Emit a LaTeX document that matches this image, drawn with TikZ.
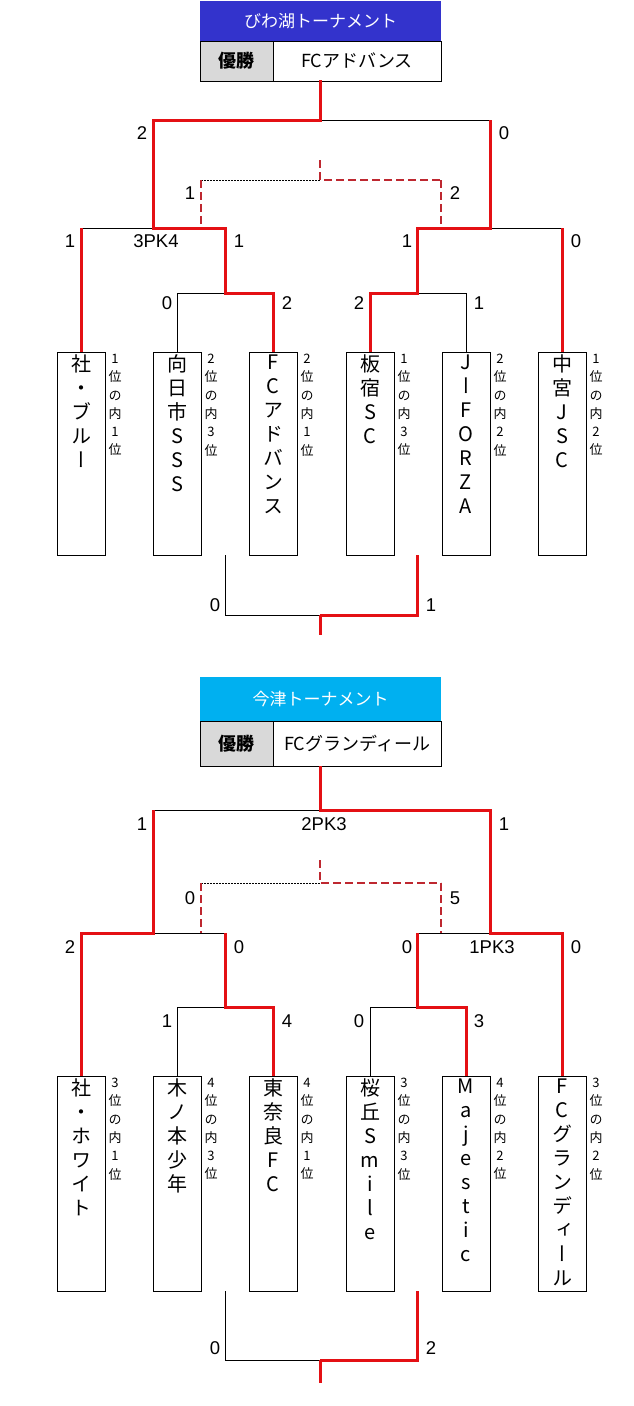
\documentclass[tikz,border=0pt]{standalone}
\usepackage{fontspec}
\setmainfont{Noto Sans CJK JP}
\newfontfamily\jpv[RawFeature=+vert]{Noto Sans CJK JP}
\newfontfamily\numf{Liberation Sans}
\definecolor{wred}{RGB}{228,16,20}
\definecolor{dred}{RGB}{190,40,48}
\definecolor{hblue}{RGB}{51,51,204}
\definecolor{hcyan}{RGB}{0,176,240}
\definecolor{cgray}{RGB}{217,217,217}
\tikzset{
  win/.style={draw=wred,line width=3pt,line join=miter},
  lose/.style={draw=black,line width=0.9pt},
  dsh/.style={draw=dred,line width=2pt,dash pattern=on 8pt off 4pt},
  dot/.style={draw=black,line width=0.7pt,dash pattern=on 2pt off 1pt},
  score/.style={font=\numf\fontsize{18.5}{18.5}\selectfont,inner sep=0},
  team/.style={draw,line width=0.9pt,minimum width=48pt,inner sep=0},
  vt/.style={font=\jpv\fontsize{20}{24}\selectfont,align=center,inner sep=0,anchor=north},
  sl/.style={font=\jpv\fontsize{13}{18.3}\selectfont,align=center,inner sep=0,anchor=north},
  hdr/.style={minimum width=241pt,minimum height=40pt,inner sep=0,text=white,font=\fontsize{17}{17}\selectfont},
  cell/.style={draw,line width=0.9pt,minimum height=40pt,inner sep=0,font=\fontsize{18}{18}\selectfont},
}
\begin{document}
\begin{tikzpicture}[x=1pt,y=-1pt]
\useasboundingbox (0,0) rectangle (633,1406);

% ================= Bracket A =================
\node[hdr,fill=hblue] (ahdr) at (320.5,21) {びわ湖トーナメント};
\node[cell,fill=cgray,minimum width=73pt,font=\bfseries\fontsize{18}{18}\selectfont] (awl) at (236.5,61) {優勝};
\node[cell,minimum width=168pt] (awn) at (357,61) {FCアドバンス};

% team boxes
\foreach \i/\x in {1/81,2/177,3/273,4/370,5/466,6/562}{
  \node[team,minimum height=203pt] (a\i) at (\x,453.5) {};
}
\node[vt] (a1t) at (a1.north) [yshift=-3pt] {社\\・\\ブ\\ル\\ー};
\node[vt] (a2t) at (a2.north) [yshift=-3pt] {向\\日\\市\\S\\S\\S};
\node[vt] (a3t) at (a3.north) [yshift=-3pt] {F\\C\\ア\\ド\\バ\\ン\\ス};
\node[vt] (a4t) at (a4.north) [yshift=-3pt] {板\\宿\\S\\C};
\node[vt] (a5t) at (a5.north) [yshift=-3pt] {J\\ー\\F\\O\\R\\Z\\A};
\node[vt] (a6t) at (a6.north) [yshift=-3pt] {中\\宮\\J\\S\\C};
\node[sl] (a1s) at (115,354) {1\\位\\の\\内\\1\\位};
\node[sl] (a2s) at (211,354) {2\\位\\の\\内\\3\\位};
\node[sl] (a3s) at (307,354) {2\\位\\の\\内\\1\\位};
\node[sl] (a4s) at (404,354) {1\\位\\の\\内\\3\\位};
\node[sl] (a5s) at (500,354) {2\\位\\の\\内\\2\\位};
\node[sl] (a6s) at (596,354) {1\\位\\の\\内\\2\\位};

% junction coordinates
\coordinate (aT) at (320,80);
\coordinate (aF) at (320,120);
\coordinate (aFL) at (153,120);
\coordinate (aFR) at (490,120);
\coordinate (aSL) at (153,228);
\coordinate (aSR) at (490,228);
\coordinate (aSLl) at (81,228);
\coordinate (aSLr) at (225,228);
\coordinate (aSRl) at (417,228);
\coordinate (aSRr) at (562,228);
\coordinate (aQL) at (225,293);
\coordinate (aQLl) at (177,293);
\coordinate (aQLr) at (273,293);
\coordinate (aQR) at (417,293);
\coordinate (aQRl) at (370,293);
\coordinate (aQRr) at (466,293);
\coordinate (a3T) at (320,160);
\coordinate (a3C) at (320,180);
\coordinate (a3L) at (201,180);
\coordinate (a3R) at (441,180);
\coordinate (a3Lb) at (201,228);
\coordinate (a3Rb) at (441,228);
\coordinate (aBL) at (225,555);
\coordinate (aBLc) at (225,615);
\coordinate (aBC) at (320,615);
\coordinate (aBRc) at (417,615);
\coordinate (aBR) at (417,555);
\coordinate (aBE) at (320,635);

% black lines
\draw[lose] (aF) -- (aFR);
\draw[lose] (aSLl) -- (aSL);
\draw[lose] (aSR) -- (aSRr);
\draw[lose] (a2.north) -- (aQLl) -- (aQL);
\draw[lose] (a5.north) -- (aQRr) -- (aQR);
\draw[lose] (aBL) -- (aBLc) -- (aBC);
% third place
\draw[dot] (a3L) -- (a3C);
\draw[dsh] (a3T) -- (a3C) -- (a3R);
\draw[dsh] (a3L) -- (a3Lb);
\draw[dsh] (a3R) -- (a3Rb);
% red lines
\draw[win] (aT) -- (aF) -- (aFL) -- (aSL) -- (aSLr) -- (aQL) -- (aQLr) -- (a3.north);
\draw[win] (aFR) -- (aSR) -- (aSRl) -- (aQR) -- (aQRl) -- (a4.north);
\draw[win] (aSLl) -- (a1.north);
\draw[win] (aSRr) -- (a6.north);
\draw[win] (aBR) -- (aBRc) -- (aBC);
\draw[win] (aBC) -- (aBE);

% scores
\node[score] (as1) at (142,133) {2};
\node[score] (as2) at (504,133) {0};
\node[score] (as3) at (190,193) {1};
\node[score] (as4) at (455,193) {2};
\node[score] (as5) at (70,241) {1};
\node[score] (as6) at (156,241) {3PK4};
\node[score] (as7) at (239,241) {1};
\node[score] (as8) at (407,241) {1};
\node[score] (as9) at (576,241) {0};
\node[score] (as10) at (167,303) {0};
\node[score] (as11) at (287,303) {2};
\node[score] (as12) at (359,303) {2};
\node[score] (as13) at (479,303) {1};
\node[score] (as14) at (215,605) {0};
\node[score] (as15) at (431,605) {1};

% ================= Bracket B =================
\node[hdr,fill=hcyan,minimum height=44pt] (bhdr) at (320.5,699) {今津トーナメント};
\node[cell,fill=cgray,minimum width=73pt,minimum height=45pt,font=\bfseries\fontsize{18}{18}\selectfont] (bwl) at (236.5,743.5) {優勝};
\node[cell,minimum width=168pt,minimum height=45pt] (bwn) at (357,743.5) {FCグランディール};

\foreach \i/\x in {1/81,2/177,3/273,4/370,5/466,6/562}{
  \node[team,minimum height=215pt] (b\i) at (\x,1183.5) {};
}
\node[vt] (b1t) at (b1.north) [yshift=-3pt] {社\\・\\ホ\\ワ\\イ\\ト};
\node[vt] (b2t) at (b2.north) [yshift=-3pt] {木\\ノ\\本\\少\\年};
\node[vt] (b3t) at (b3.north) [yshift=-3pt] {東\\奈\\良\\F\\C};
\node[vt] (b4t) at (b4.north) [yshift=-3pt] {桜\\丘\\S\\m\\i\\l\\e};
\node[vt] (b5t) at (b5.north) [yshift=-3pt] {M\\a\\j\\e\\s\\t\\i\\c};
\node[vt] (b6t) at (b6.north) [yshift=-3pt] {F\\C\\グ\\ラ\\ン\\デ\\ィ\\ー\\ル};
\node[sl] (b1s) at (115,1078) {3\\位\\の\\内\\1\\位};
\node[sl] (b2s) at (211,1078) {4\\位\\の\\内\\3\\位};
\node[sl] (b3s) at (307,1078) {4\\位\\の\\内\\1\\位};
\node[sl] (b4s) at (404,1078) {3\\位\\の\\内\\3\\位};
\node[sl] (b5s) at (500,1078) {4\\位\\の\\内\\2\\位};
\node[sl] (b6s) at (596,1078) {3\\位\\の\\内\\2\\位};

\coordinate (bT) at (320,766);
\coordinate (bF) at (320,810);
\coordinate (bFL) at (153,810);
\coordinate (bFR) at (490,810);
\coordinate (bSL) at (153,933);
\coordinate (bSR) at (490,933);
\coordinate (bSLl) at (81,933);
\coordinate (bSLr) at (225,933);
\coordinate (bSRl) at (417,933);
\coordinate (bSRr) at (562,933);
\coordinate (bQL) at (225,1007);
\coordinate (bQLl) at (177,1007);
\coordinate (bQLr) at (273,1007);
\coordinate (bQR) at (417,1007);
\coordinate (bQRl) at (370,1007);
\coordinate (bQRr) at (466,1007);
\coordinate (b3T) at (320,860);
\coordinate (b3C) at (320,883);
\coordinate (b3L) at (201,883);
\coordinate (b3R) at (441,883);
\coordinate (b3Lb) at (201,933);
\coordinate (b3Rb) at (441,933);
\coordinate (bBL) at (225,1291);
\coordinate (bBLc) at (225,1360);
\coordinate (bBC) at (320,1360);
\coordinate (bBRc) at (417,1360);
\coordinate (bBR) at (417,1291);
\coordinate (bBE) at (320,1383);

\draw[lose] (bFL) -- (bF);
\draw[lose] (bSL) -- (bSLr);
\draw[lose] (bSRl) -- (bSR);
\draw[lose] (b2.north) -- (bQLl) -- (bQL);
\draw[lose] (b4.north) -- (bQRl) -- (bQR);
\draw[lose] (bBL) -- (bBLc) -- (bBC);
\draw[dot] (b3L) -- (b3C);
\draw[dsh] (b3T) -- (b3C) -- (b3R);
\draw[dsh] (b3L) -- (b3Lb);
\draw[dsh] (b3R) -- (b3Rb);
\draw[win] (bT) -- (bF) -- (bFR) -- (bSR) -- (bSRr) -- (b6.north);
\draw[win] (bFL) -- (bSL) -- (bSLl) -- (b1.north);
\draw[win] (bSLr) -- (bQL) -- (bQLr) -- (b3.north);
\draw[win] (bSRl) -- (bQR) -- (bQRr) -- (b5.north);
\draw[win] (bBR) -- (bBRc) -- (bBC);
\draw[win] (bBC) -- (bBE);

\node[score] (bs1) at (142,824) {1};
\node[score] (bs2) at (324,824) {2PK3};
\node[score] (bs3) at (504,824) {1};
\node[score] (bs4) at (190,898) {0};
\node[score] (bs5) at (455,898) {5};
\node[score] (bs6) at (70,947) {2};
\node[score] (bs7) at (239,947) {0};
\node[score] (bs8) at (407,947) {0};
\node[score] (bs9) at (492,947) {1PK3};
\node[score] (bs10) at (576,947) {0};
\node[score] (bs11) at (167,1021) {1};
\node[score] (bs12) at (287,1021) {4};
\node[score] (bs13) at (359,1021) {0};
\node[score] (bs14) at (479,1021) {3};
\node[score] (bs15) at (215,1348) {0};
\node[score] (bs16) at (431,1348) {2};
\end{tikzpicture}
\end{document}
